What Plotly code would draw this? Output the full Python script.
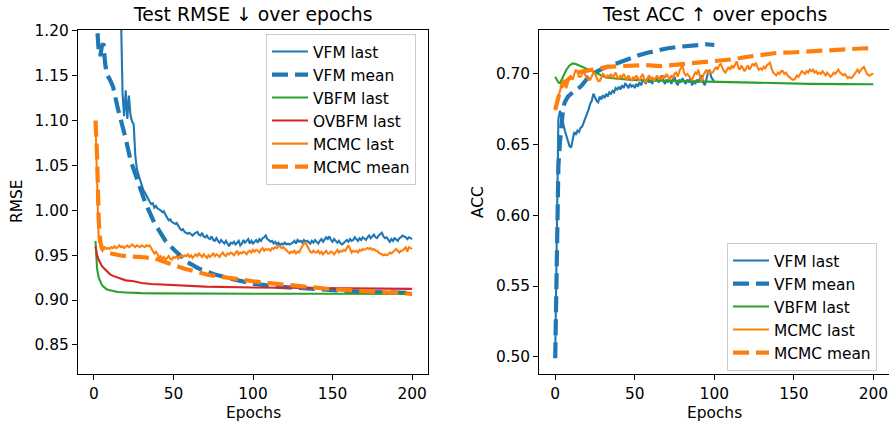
import plotly.graph_objects as go

# ---------------- data: left panel (Test RMSE) ----------------
rmse_vfm_last = [
    1.95, 1.85, 1.78, 1.70, 1.64, 1.58, 1.53, 1.49, 1.45, 1.41,
    1.38, 1.35, 1.32, 1.29, 1.26, 1.24, 1.22, 1.130, 1.105, 1.134,
    1.102, 1.128, 1.106, 1.099, 1.096, 1.062, 1.046, 1.040, 1.034, 1.029,
    1.023, 1.020, 1.016, 1.012, 1.010, 1.007, 1.008, 1.003, 1.005, 1.002,
    1.001, 1.000, 0.998, 0.999, 0.995, 0.991, 0.989, 0.990, 0.987, 0.986,
    0.985, 0.986, 0.982, 0.980, 0.978, 0.979, 0.976, 0.975, 0.974, 0.975,
    0.973, 0.972, 0.974, 0.975, 0.976, 0.973, 0.972, 0.975, 0.971, 0.970,
    0.972, 0.969, 0.968, 0.971, 0.967, 0.966, 0.969, 0.966, 0.964, 0.967,
    0.965, 0.963, 0.966, 0.962, 0.960, 0.964, 0.963, 0.965, 0.962, 0.964,
    0.966, 0.961, 0.963, 0.967, 0.964, 0.966, 0.968, 0.963, 0.966, 0.963,
    0.965, 0.967, 0.964, 0.968, 0.966, 0.969, 0.970, 0.972, 0.968, 0.967,
    0.965, 0.966, 0.963, 0.965, 0.962, 0.964, 0.961, 0.963, 0.962, 0.964,
    0.962, 0.963, 0.962, 0.963, 0.964, 0.966, 0.963, 0.967, 0.965, 0.966,
    0.964, 0.967, 0.965, 0.966, 0.964, 0.963, 0.966, 0.964, 0.967, 0.965,
    0.963, 0.966, 0.968, 0.965, 0.967, 0.970, 0.968, 0.971, 0.967, 0.965,
    0.968, 0.966, 0.964, 0.966, 0.963, 0.962, 0.964, 0.965, 0.967, 0.965,
    0.968, 0.966, 0.967, 0.970, 0.968, 0.966, 0.969, 0.967, 0.970, 0.968,
    0.967, 0.970, 0.972, 0.969, 0.971, 0.973, 0.970, 0.969, 0.972, 0.974,
    0.975, 0.971, 0.969, 0.970, 0.967, 0.965, 0.968, 0.966, 0.969, 0.967,
    0.966, 0.969, 0.970, 0.972, 0.971, 0.970, 0.968, 0.970, 0.969, 0.968,
]
rmse_mcmc_last = [
    1.100, 1.020, 0.968, 0.962, 0.960, 0.958, 0.959, 0.957, 0.958, 0.957,
    0.959, 0.958, 0.960, 0.958, 0.959, 0.961, 0.959, 0.960, 0.958, 0.960,
    0.961, 0.959, 0.960, 0.962, 0.960, 0.959, 0.961, 0.960, 0.959, 0.961,
    0.960, 0.959, 0.961, 0.960, 0.961, 0.958, 0.955, 0.952, 0.954, 0.950,
    0.948, 0.949, 0.946, 0.948, 0.945, 0.947, 0.949, 0.946, 0.945, 0.948,
    0.947, 0.949, 0.946, 0.948, 0.950, 0.948, 0.950, 0.949, 0.951, 0.948,
    0.950, 0.947, 0.949, 0.951, 0.949, 0.952, 0.950, 0.948, 0.951, 0.949,
    0.947, 0.950, 0.948, 0.950, 0.952, 0.949, 0.951, 0.950, 0.948, 0.951,
    0.953, 0.950, 0.949, 0.952, 0.951, 0.953, 0.952, 0.950, 0.953, 0.955,
    0.951, 0.953, 0.952, 0.954, 0.953, 0.951, 0.954, 0.955, 0.953, 0.956,
    0.954, 0.956, 0.955, 0.953, 0.956, 0.958, 0.955, 0.957, 0.956, 0.957,
    0.955, 0.958, 0.957, 0.959, 0.958, 0.960, 0.960, 0.958, 0.959, 0.957,
    0.955, 0.953, 0.952, 0.954, 0.953, 0.955, 0.952, 0.954, 0.953, 0.957,
    0.960, 0.963, 0.964, 0.960, 0.956, 0.954, 0.953, 0.955, 0.953, 0.953,
    0.955, 0.952, 0.954, 0.951, 0.953, 0.955, 0.952, 0.952, 0.954, 0.953,
    0.951, 0.954, 0.956, 0.953, 0.955, 0.954, 0.956, 0.955, 0.958, 0.961,
    0.957, 0.953, 0.955, 0.954, 0.955, 0.953, 0.956, 0.955, 0.957, 0.956,
    0.957, 0.958, 0.957, 0.958, 0.956, 0.957, 0.955, 0.955, 0.953, 0.952,
    0.951, 0.950, 0.951, 0.950, 0.951, 0.953, 0.952, 0.954, 0.956, 0.957,
    0.955, 0.953, 0.955, 0.955, 0.957, 0.959, 0.954, 0.959, 0.958, 0.957,
]
rmse_vfm_mean_ep = [1, 2, 3, 4, 5, 6, 7, 8, 10, 12, 15, 18, 20, 23, 27, 32, 38, 45, 51,
                    55, 59, 66, 75, 88, 101, 115, 130, 145, 160, 175, 190, 200]
rmse_vfm_mean = [1.30, 1.205, 1.178, 1.172, 1.183, 1.186, 1.165, 1.152, 1.146, 1.138,
                 1.114, 1.094, 1.080, 1.056, 1.034, 1.010, 0.986, 0.966, 0.955,
                 0.948, 0.942, 0.935, 0.929, 0.923, 0.918, 0.915, 0.913, 0.911,
                 0.910, 0.909, 0.908, 0.908]
rmse_mcmc_mean_ep = [1, 2, 3, 4, 5, 6, 8, 10, 13, 16, 20, 25, 30, 35, 38, 42, 46, 50,
                     57, 65, 72, 80, 90, 100, 110, 120, 130, 140, 150, 160, 170, 180,
                     190, 200]
rmse_mcmc_mean = [1.10, 1.06, 0.99, 0.965, 0.958, 0.955, 0.953, 0.952, 0.951, 0.950,
                  0.949, 0.949, 0.948, 0.947, 0.947, 0.944, 0.941, 0.939, 0.935,
                  0.931, 0.928, 0.926, 0.923, 0.921, 0.919, 0.917, 0.915, 0.913,
                  0.912, 0.911, 0.910, 0.909, 0.908, 0.907]
rmse_vbfm_ep = [1, 2, 3, 4, 5, 6, 8, 10, 12, 15, 20, 25, 30, 40, 50, 70, 100, 150, 200]
rmse_vbfm = [0.966, 0.935, 0.925, 0.920, 0.917, 0.915, 0.912, 0.911, 0.910, 0.909,
             0.9085, 0.908, 0.9078, 0.9075, 0.9073, 0.9072, 0.907, 0.907, 0.9068]
rmse_ovbfm_ep = [1, 2, 3, 4, 5, 6, 7, 8, 10, 12, 15, 20, 25, 30, 36, 45, 55, 70, 100,
                 150, 200]
rmse_ovbfm = [0.960, 0.950, 0.945, 0.941, 0.938, 0.936, 0.934, 0.932, 0.929, 0.927,
              0.925, 0.922, 0.921, 0.919, 0.918, 0.917, 0.916, 0.915, 0.914, 0.913,
              0.9125]

# ---------------- data: right panel (Test ACC) ----------------
acc_vfm_last = [
    0.500, 0.600, 0.668, 0.674, 0.670, 0.665, 0.660, 0.656, 0.652, 0.649,
    0.648, 0.655, 0.659, 0.657, 0.660, 0.659, 0.662, 0.663, 0.666, 0.668,
    0.672, 0.675, 0.679, 0.681, 0.686, 0.683, 0.681, 0.680, 0.684, 0.682,
    0.685, 0.683, 0.686, 0.684, 0.687, 0.686, 0.688, 0.687, 0.690, 0.689,
    0.691, 0.689, 0.692, 0.690, 0.693, 0.692, 0.690, 0.693, 0.691, 0.692,
    0.690, 0.693, 0.691, 0.694, 0.692, 0.695, 0.696, 0.693, 0.697, 0.694,
    0.696, 0.693, 0.697, 0.695, 0.698, 0.694, 0.697, 0.699, 0.695, 0.693,
    0.696, 0.694, 0.697, 0.693, 0.696, 0.698, 0.694, 0.692, 0.696, 0.694,
    0.697, 0.695, 0.693, 0.696, 0.694, 0.697, 0.692, 0.695, 0.693, 0.696,
    0.694, 0.697, 0.699, 0.694, 0.692, 0.696, 0.701, 0.703, 0.698, 0.696,
    0.695,
]
acc_mcmc_last = [
    0.676, 0.680, 0.684, 0.687, 0.692, 0.696, 0.693, 0.690, 0.694, 0.697,
    0.698, 0.696, 0.700, 0.703, 0.701, 0.698, 0.698, 0.700, 0.702, 0.699,
    0.697, 0.696, 0.696, 0.699, 0.701, 0.700, 0.697, 0.695, 0.695, 0.698,
    0.700, 0.699, 0.697, 0.699, 0.698, 0.700, 0.697, 0.699, 0.701, 0.698,
    0.696, 0.699, 0.697, 0.700, 0.698, 0.696, 0.699, 0.697, 0.695, 0.698,
    0.696, 0.699, 0.697, 0.695, 0.698, 0.700, 0.696, 0.694, 0.697, 0.699,
    0.696, 0.698, 0.695, 0.697, 0.699, 0.696, 0.698, 0.696, 0.699, 0.697,
    0.700, 0.698, 0.696, 0.699, 0.697, 0.700, 0.701, 0.698, 0.702, 0.704,
    0.706, 0.701, 0.699, 0.700, 0.698, 0.697, 0.696, 0.699, 0.701, 0.700,
    0.703, 0.698, 0.695, 0.699, 0.701, 0.703, 0.700, 0.702, 0.701, 0.701,
    0.703, 0.705, 0.703, 0.706, 0.707, 0.704, 0.702, 0.701, 0.703, 0.705,
    0.703, 0.706, 0.704, 0.707, 0.709, 0.705, 0.703, 0.706, 0.704, 0.702,
    0.704, 0.706, 0.703, 0.705, 0.707, 0.706, 0.708, 0.705, 0.703, 0.704,
    0.703, 0.705, 0.704, 0.706, 0.707, 0.708, 0.704, 0.701, 0.700, 0.699,
    0.701, 0.700, 0.702, 0.702, 0.700, 0.701, 0.699, 0.698, 0.697, 0.696,
    0.696, 0.697, 0.699, 0.698, 0.700, 0.702, 0.701, 0.700, 0.702, 0.701,
    0.703, 0.702, 0.703, 0.701, 0.702, 0.700, 0.701, 0.700, 0.702, 0.700,
    0.699, 0.701, 0.699, 0.698, 0.699, 0.701, 0.700, 0.702, 0.703, 0.701,
    0.700, 0.699, 0.700, 0.698, 0.697, 0.698, 0.697, 0.698, 0.700, 0.702,
    0.703, 0.701, 0.703, 0.704, 0.705, 0.702, 0.700, 0.699, 0.699, 0.700,
    0.700,
]
acc_vfm_mean_ep = [0, 1, 2, 3, 4, 5, 6, 8, 10, 13, 16, 19, 21, 25, 30, 35, 42, 48, 52,
                   58, 65, 70, 76, 83, 90, 95, 100]
acc_vfm_mean = [0.499, 0.570, 0.635, 0.652, 0.668, 0.676, 0.680, 0.684, 0.686, 0.689,
                0.691, 0.695, 0.698, 0.701, 0.704, 0.706, 0.709, 0.711, 0.713,
                0.715, 0.717, 0.718, 0.719, 0.7195, 0.7205, 0.721, 0.7205]
acc_vbfm_ep = [0, 1, 2, 3, 5, 7, 9, 11, 13, 16, 20, 24, 28, 32, 36, 42, 48, 60, 80,
               100, 120, 140, 160, 180, 200]
acc_vbfm = [0.698, 0.696, 0.694, 0.6935, 0.698, 0.703, 0.706, 0.7075, 0.707, 0.7055,
            0.703, 0.701, 0.699, 0.6975, 0.697, 0.6963, 0.6958, 0.6955, 0.695,
            0.6945, 0.6935, 0.693, 0.693, 0.6928, 0.6927]
acc_mcmc_mean_ep = [0, 1, 2, 3, 4, 6, 9, 12, 16, 20, 27, 33, 40, 50, 57, 66, 75, 87,
                    99, 105, 112, 120, 128, 135, 140, 148, 156, 165, 176, 183, 189,
                    195, 200]
acc_mcmc_mean = [0.6745, 0.680, 0.685, 0.688, 0.691, 0.694, 0.697, 0.700, 0.7015,
                 0.7025, 0.704, 0.705, 0.7055, 0.706, 0.7063, 0.7055, 0.7065, 0.7076,
                 0.7087, 0.7095, 0.7104, 0.712, 0.7134, 0.7142, 0.715, 0.7152,
                 0.7158, 0.7165, 0.717, 0.7175, 0.7182, 0.7182, 0.718]

x_ticks = [0, 50, 100, 150, 200]
rmse_ticks = [0.85, 0.90, 0.95, 1.00, 1.05, 1.10, 1.15, 1.20]
acc_ticks = [0.50, 0.55, 0.60, 0.65, 0.70]

# ---------------- styling ----------------
BLUE, ORANGE, GREEN, RED = "#1f77b4", "#ff7f0e", "#2ca02c", "#d62728"
W, H = 889, 424
FONT = "DejaVu Sans"
TICK_FS = 15.4
TITLE_FS = 18.8
SOLID_W = 2.1
DASH_W = 4.2
DASH = "16px,7px"

fig = go.Figure()


def add(x, y, name, color, dashed, xa, ya, legend):
    fig.add_trace(go.Scatter(
        x=x, y=y, mode="lines", name=name,
        line=dict(color=color, width=DASH_W if dashed else SOLID_W,
                  dash=DASH if dashed else "solid"),
        xaxis=xa, yaxis=ya, legend=legend,
        hoverinfo="skip",
    ))


ep_l = list(range(1, 1 + len(rmse_vfm_last)))
ep_l2 = list(range(1, 1 + len(rmse_mcmc_last)))
add(ep_l, rmse_vfm_last, "VFM last", BLUE, False, "x", "y", "legend2")
add(rmse_vfm_mean_ep, rmse_vfm_mean, "VFM mean", BLUE, True, "x", "y", "legend2")
add(rmse_vbfm_ep, rmse_vbfm, "VBFM last", GREEN, False, "x", "y", "legend2")
add(rmse_ovbfm_ep, rmse_ovbfm, "OVBFM last", RED, False, "x", "y", "legend2")
add(ep_l2, rmse_mcmc_last, "MCMC last", ORANGE, False, "x", "y", "legend2")
add(rmse_mcmc_mean_ep, rmse_mcmc_mean, "MCMC mean", ORANGE, True, "x", "y", "legend2")

ep_r = list(range(0, len(acc_vfm_last)))
ep_r2 = list(range(0, len(acc_mcmc_last)))
add(ep_r, acc_vfm_last, "VFM last", BLUE, False, "x2", "y2", "legend3")
add(acc_vfm_mean_ep, acc_vfm_mean, "VFM mean", BLUE, True, "x2", "y2", "legend3")
add(acc_vbfm_ep, acc_vbfm, "VBFM last", GREEN, False, "x2", "y2", "legend3")
add(ep_r2, acc_mcmc_last, "MCMC last", ORANGE, False, "x2", "y2", "legend3")
add(acc_mcmc_mean_ep, acc_mcmc_mean, "MCMC mean", ORANGE, True, "x2", "y2", "legend3")


def px_x(p):
    return p / W


def px_y(p):
    return 1 - p / H


ydom = [px_y(374), px_y(30)]
common_axis = dict(
    showgrid=False, zeroline=False, showline=True, linecolor="black", linewidth=1.1,
    ticks="outside", ticklen=5, tickwidth=1.1, tickcolor="black",
    tickfont=dict(family=FONT, size=TICK_FS, color="black"), automargin=False,
)

legend_style = dict(
    bgcolor="rgba(255,255,255,0.8)", bordercolor="#cccccc", borderwidth=1,
    font=dict(family=FONT, size=TICK_FS, color="black"),
    xanchor="left", yanchor="top", itemwidth=36, traceorder="normal",
)

fig.update_layout(
    width=W, height=H, margin=dict(l=0, r=0, t=0, b=0),
    paper_bgcolor="white", plot_bgcolor="white",
    font=dict(family=FONT, size=TICK_FS, color="black"),
    xaxis=dict(domain=[px_x(78), px_x(428)], range=[-10, 210], tickvals=x_ticks,
               mirror=True, anchor="y", **common_axis),
    yaxis=dict(domain=ydom, range=[0.8176, 1.2011], tickvals=rmse_ticks,
               tickformat=".2f", mirror=True, anchor="x", **common_axis),
    xaxis2=dict(domain=[px_x(539.3), 1.0], range=[-10, 209.8], tickvals=x_ticks,
                mirror=True, anchor="y2", **common_axis),
    yaxis2=dict(domain=ydom, range=[0.4878, 0.7311], tickvals=acc_ticks,
                tickformat=".2f", mirror=False, anchor="x2", **common_axis),
    legend2=dict(x=px_x(266), y=px_y(34), **legend_style),
    legend3=dict(x=px_x(727), y=px_y(243), **legend_style),
    showlegend=True,
)

annots = [
    ("Test RMSE ↓ over epochs", 253, 14.5, TITLE_FS, 0),
    ("Test ACC ↑ over epochs", 714.5, 14.5, TITLE_FS, 0),
    ("RMSE", 17, 202, TICK_FS, -90),
    ("ACC", 478, 202, TICK_FS, -90),
    ("Epochs", 253, 413, TICK_FS, 0),
    ("Epochs", 714.5, 413, TICK_FS, 0),
]
for text, ax, ay, fs, ang in annots:
    fig.add_annotation(text=text, x=px_x(ax), y=px_y(ay), xref="paper", yref="paper",
                       xanchor="center", yanchor="middle", showarrow=False,
                       textangle=ang, font=dict(family=FONT, size=fs, color="black"))

fig.write_html("out.html", config={"displayModeBar": False},
               post_script="document.body.style.margin='0px';")
